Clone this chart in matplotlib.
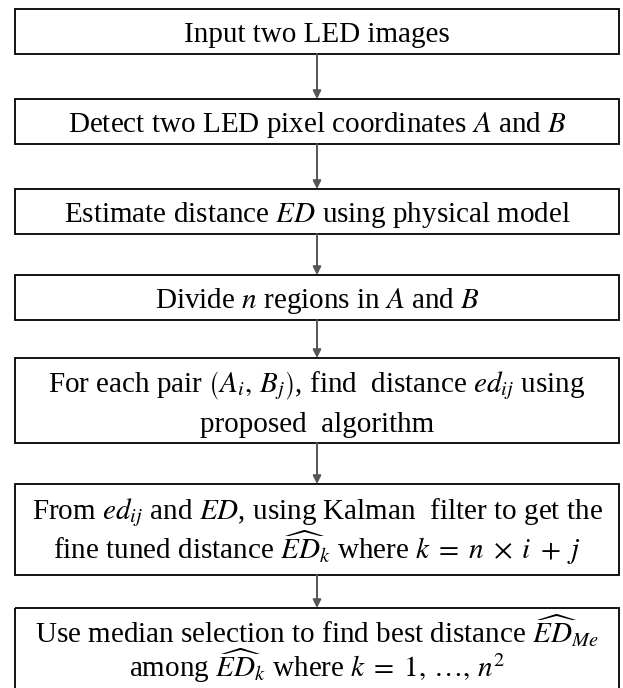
import matplotlib
matplotlib.use("Agg")
import matplotlib.pyplot as plt
from matplotlib.patches import Rectangle

plt.rcParams['mathtext.fontset'] = 'stix'
plt.rcParams['font.family'] = ['Liberation Serif', 'DejaVu Serif']

# Flowchart steps (each step may span multiple lines)
steps = [
    ["Input two LED images"],
    [r"Detect two LED pixel coordinates $A$ and $B$"],
    [r"Estimate distance $ED$ using physical model"],
    [r"Divide $n$ regions in $A$ and $B$"],
    [r"For each pair $\left(A_i,\, B_j\right)$, find  distance $ed_{ij}$ using",
     "proposed  algorithm"],
    [r"From $ed_{ij}$ and $ED$, using Kalman  filter to get the",
     r"fine tuned distance $\widehat{ED}_k$ where $k\;=\;n\;\times\;i\;+\;j$"],
    [r"Use median selection to find best distance $\widehat{ED}_{Me}$",
     r"among $\widehat{ED}_k$ where $k\;=\;1,\,\ldots,\,n^2$"],
]

# layout (pixel coordinates)
W, H = 623, 688
box_left, box_right = 15, 619
box_tops = [9, 99, 189, 275, 358, 484, 608]
box_bottoms = [54, 144, 234, 320, 443, 575, 700]
first_baselines = [42, 132, 222, 308, 392, 519, 643]
line_gaps = [0, 0, 0, 0, 40, 40, 34]
cx = 317

fig = plt.figure(figsize=(W / 100, H / 100), dpi=100)
ax = fig.add_axes([0, 0, 1, 1])
ax.set_xlim(0, W)
ax.set_ylim(H, 0)
ax.axis('off')

for i, lines in enumerate(steps):
    t, b = box_tops[i], box_bottoms[i]
    ax.add_patch(Rectangle((box_left, t), box_right - box_left, b - t,
                           fill=False, edgecolor='black', linewidth=1.3,
                           clip_on=True))
    for k, s in enumerate(lines):
        y = first_baselines[i] + k * line_gaps[i]
        ax.text(cx, y, s, ha='center', va='baseline', fontsize=21,
                color='black')
    if i < len(steps) - 1:
        ax.annotate('', xy=(cx, box_tops[i + 1]), xytext=(cx, b),
                    arrowprops=dict(arrowstyle='-|>', color='#555555',
                                    lw=1.4, mutation_scale=12,
                                    shrinkA=0, shrinkB=0))

fig.savefig('out.png', dpi=100)
